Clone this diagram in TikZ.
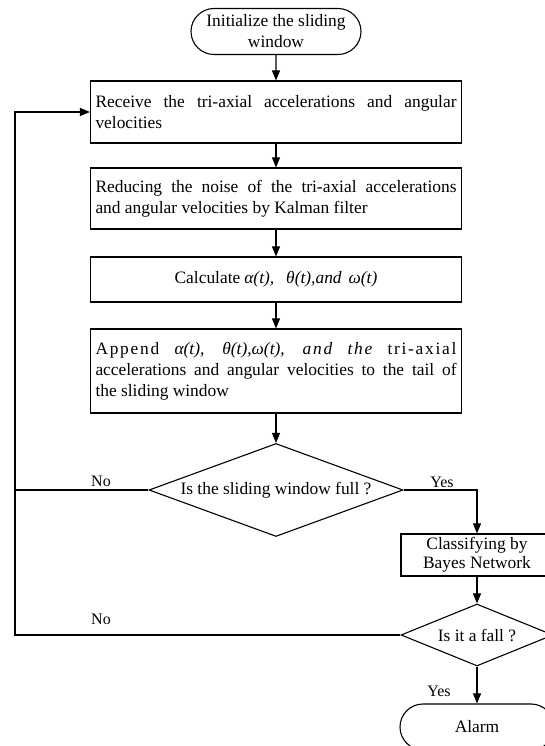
\documentclass[tikz,border=0pt]{standalone}
\usepackage{fontspec}
\setmainfont{Liberation Serif}
\newfontfamily\spacedfont[LetterSpace=10]{Liberation Serif}
\usetikzlibrary{shapes.geometric,shapes.misc,arrows.meta}
\newcommand\natsp{\spaceskip=0pt\xspaceskip=0pt\relax}
\newcommand\fullline[1]{{\spaceskip=\fontdimen2\font plus 1fil\relax\makebox[361pt][s]{#1}}}
\begin{document}
\begin{tikzpicture}[x=1pt,y=1pt,
  base/.style={draw,line width=1.1pt,font=\fontsize{17.4}{21}\selectfont},
  procbox/.style={base,rectangle,minimum width=371pt,text width=361pt,inner xsep=5pt,inner ysep=0pt,align=left},
  termbox/.style={base,rounded rectangle,minimum height=46pt,inner sep=0pt,align=center},
  decbox/.style={base,diamond,inner sep=0pt,align=center},
  smallbox/.style={base,rectangle,minimum width=152pt,minimum height=42pt,inner sep=0pt,align=center,font=\fontsize{17.4}{19}\selectfont},
  arr/.style={line width=1.1pt,-{Triangle[length=10pt,width=8pt]}},
  plain/.style={line width=1.1pt},
  lbl/.style={inner sep=0pt,font=\fontsize{16}{19}\selectfont}
]
\useasboundingbox (0,0) rectangle (544,746);

\node[termbox,minimum width=170pt] (start) at (276,714.5) {\natsp Initialize the sliding\\window};

\node[procbox,minimum height=62pt] (b1) at (276,634)
  {\fullline{Receive the tri-axial accelerations and angular}\\velocities};
\node[procbox,minimum height=61pt] (b2) at (276,547.5)
  {\fullline{Reducing the noise of the tri-axial accelerations}\\\natsp and angular velocities by Kalman filter};
\node[procbox,minimum height=45pt,align=center] (b3) at (276,466.5)
  {\natsp Calculate\hspace{4pt}\textit{α(t),\hspace{12pt}θ(t),and\hspace{7pt}ω(t)}};
\node[procbox,minimum height=84pt] (b4) at (276,375)
  {\fullline{{\spacedfont Append} \textit{α(t),} \textit{θ(t),ω(t),} {\spacedfont\itshape and} {\spacedfont\itshape the} {\spacedfont tri-axial}}\\
   \fullline{accelerations and angular velocities to the tail of}\\\natsp the sliding window};

\node[decbox,aspect=2.73,minimum width=254pt,minimum height=93pt] (d1) at (276,256)
  {\natsp Is the sliding window full ?};

\node[smallbox] (cls) at (477,191) {\natsp Classifying by\\\natsp Bayes Network};
\node[decbox,aspect=2.45,minimum width=152pt,minimum height=62pt] (d2) at (477,111)
  {\natsp Is it a fall ?};
\node[termbox,minimum width=154pt] (alarm) at (477,19) {Alarm};

\coordinate (lb) at (15,111);

\draw[arr] (start) -- (b1);
\draw[arr] (b1) -- (b2);
\draw[arr] (b2) -- (b3);
\draw[arr] (b3) -- (b4);
\draw[arr] (b4) -- (d1);
\draw[arr] (d1.east) -| (cls.north);
\draw[arr] (cls) -- (d2);
\draw[arr] (d2) -- (alarm);
\draw[plain] (d1.west) -- (d1.west -| lb);
\draw[arr] (d2.west) -- (lb) |- (b1.west);

\node[lbl] (no1) at (101,265) {No};
\node[lbl] (yes1) at (442,264) {Yes};
\node[lbl] (no2) at (101,127) {No};
\node[lbl] (yes2) at (439,55) {Yes};
\end{tikzpicture}
\end{document}
